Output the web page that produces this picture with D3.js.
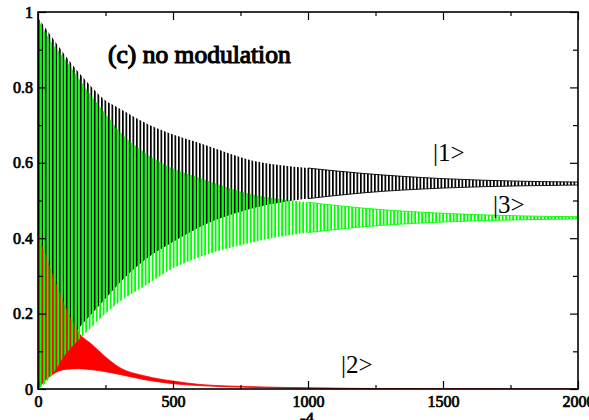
<!DOCTYPE html>
<html>
<head>
<meta charset="utf-8">
<script src="https://cdn.jsdelivr.net/npm/d3@7"></script>
<style>
	body { margin: 0; background: #fff; }
	svg text { font-family: "Liberation Serif", "Times New Roman", serif; }
</style>
</head>
<body>
<div id="chart"></div>
<script>
const times = [0, 20, 50, 100, 150, 200, 250, 300, 400, 500, 600, 800, 1000, 1200, 1500, 1800, 2000]

// |1> population (black): upper and lower envelope of the fast oscillation
const state1Max = [0.985, 0.965, 0.935, 0.885, 0.84, 0.8, 0.765, 0.745, 0.705, 0.675, 0.652, 0.605, 0.586, 0.572, 0.558, 0.551, 0.549]
const state1Min = [0.0, 0.02, 0.05, 0.11, 0.16, 0.2, 0.24, 0.28, 0.345, 0.39, 0.43, 0.48, 0.505, 0.52, 0.533, 0.539, 0.541]

// |3> population (green)
const state3Max = [0.98, 0.955, 0.92, 0.875, 0.825, 0.775, 0.73, 0.685, 0.625, 0.585, 0.56, 0.515, 0.495, 0.48, 0.466, 0.459, 0.457]
const state3Min = [0.0, 0.01, 0.035, 0.09, 0.13, 0.165, 0.2, 0.23, 0.275, 0.32, 0.35, 0.39, 0.415, 0.43, 0.443, 0.449, 0.451]

// |2> population (red)
const state2Max = [0.41, 0.37, 0.31, 0.22, 0.15, 0.118, 0.085, 0.058, 0.034, 0.021, 0.012, 0.006, 0.003, 0.0015, 0.0005, 0.0, 0.0]
const state2Min = [0.0, 0.018, 0.037, 0.052, 0.054, 0.051, 0.046, 0.039, 0.024, 0.014, 0.009, 0.004, 0.002, 0.001, 0.0003, 0.0, 0.0]

// axis ticks
const xMajor = [0, 500, 1000, 1500, 2000]
const xMinor = [250, 750, 1250, 1750]
const yMajor = [0, 0.2, 0.4, 0.6, 0.8, 1]
const yMinor = [0.1, 0.3, 0.5, 0.7, 0.9]
const yTickLabels = ["0", "0.2", "0.4", "0.6", "0.8", "1"]

const serif = '"Liberation Serif", "Times New Roman", serif'

const svgWidth = 589
const svgHeight = 420

let margin = { top: 12, right: 11, bottom: 31, left: 38 }
let width = svgWidth - margin.left - margin.right
let height = svgHeight - margin.top - margin.bottom

let svg = d3.select("#chart")
	.append("svg")
	.attr("width", svgWidth)
	.attr("height", svgHeight)

let defs = svg.append("defs")

defs.append("clipPath")
	.attr("id", "plotClip")
	.append("rect")
	.attr("width", width)
	.attr("height", height)

// vertical stripes stand in for the dense oscillation of each line
function stripes(id, color, period, barWidth, offset) {
	let p = defs.append("pattern")
		.attr("id", id)
		.attr("patternUnits", "userSpaceOnUse")
		.attr("width", period)
		.attr("height", 20)
		.attr("patternTransform", `translate(${offset}, 0)`)
	p.append("rect")
		.attr("x", 0)
		.attr("y", 0)
		.attr("width", barWidth)
		.attr("height", 20)
		.attr("fill", color)
}
stripes("blackStripes", "#000", 3.5, 1.7, 0)
stripes("greenStripes", "#00ff00", 3.5, 1.8, 1.75)

let chartGroup = svg.append("g")
	.attr("transform", `translate(${margin.left}, ${margin.top})`)

let xLinearScale = d3.scaleLinear().domain([0, 2000]).range([0, width])
let yLinearScale = d3.scaleLinear().domain([0, 1]).range([height, 0])

function band(maxValues, minValues) {
	return times.map((t, i) => ({ t: t, hi: maxValues[i], lo: minValues[i] }))
}

let area = d3.area()
	.curve(d3.curveMonotoneX)
	.x(d => xLinearScale(d.t))
	.y0(d => yLinearScale(d.lo))
	.y1(d => yLinearScale(d.hi))

let plot = chartGroup.append("g").attr("clip-path", "url(#plotClip)")

// black |1>
plot.append("path")
	.datum(band(state1Max, state1Min))
	.attr("d", area)
	.attr("fill", "url(#blackStripes)")
	.attr("stroke", "none")

// red |2>
plot.append("path")
	.datum(band(state2Max, state2Min))
	.attr("d", area)
	.attr("fill", "#ff0000")
	.attr("stroke", "#ff0000")
	.attr("stroke-width", 0.8)

// green |3>
plot.append("path")
	.datum(band(state3Max, state3Min))
	.attr("d", area)
	.attr("fill", "url(#greenStripes)")
	.attr("stroke", "none")

// thin lines keep the narrow tail of each band visible
let upperLine = d3.line().curve(d3.curveMonotoneX).x(d => xLinearScale(d.t)).y(d => yLinearScale(d.hi))
let lowerLine = d3.line().curve(d3.curveMonotoneX).x(d => xLinearScale(d.t)).y(d => yLinearScale(d.lo))
let tails = [[state1Max, state1Min, "#000"], [state3Max, state3Min, "#00ff00"]]
tails.forEach(([hi, lo, color]) => {
	let data = band(hi, lo).filter(d => d.t >= 1000)
	plot.append("path").datum(data).attr("d", upperLine)
		.attr("fill", "none").attr("stroke", color).attr("stroke-width", 0.9)
	plot.append("path").datum(data).attr("d", lowerLine)
		.attr("fill", "none").attr("stroke", color).attr("stroke-width", 0.9)
})

// bold serif drawn as regular serif with a thin outline
function boldSerif(sel, size) {
	return sel
		.style("font-family", serif)
		.style("font-weight", "normal")
		.style("font-size", size + "px")
		.attr("fill", "#000")
		.attr("stroke", "#000")
		.attr("stroke-width", size * 0.045)
}

// axes: ticks point inward on all four sides
function addAxis(axis, transform) {
	let g = chartGroup.append("g").attr("transform", transform).call(axis)
	g.attr("font-family", null)
	g.select(".domain").remove()
	g.selectAll(".tick line").attr("stroke", "#000").attr("stroke-width", 1.2)
	boldSerif(g.selectAll("text"), 16)
	return g
}

addAxis(d3.axisBottom(xLinearScale).tickValues(xMajor).tickSize(-8).tickPadding(7).tickFormat(d3.format("d")), `translate(0, ${height})`)
addAxis(d3.axisBottom(xLinearScale).tickValues(xMinor).tickSize(-4).tickFormat(""), `translate(0, ${height})`)
addAxis(d3.axisTop(xLinearScale).tickValues(xMajor).tickSize(-8).tickFormat(""), "translate(0, 0)")
addAxis(d3.axisTop(xLinearScale).tickValues(xMinor).tickSize(-4).tickFormat(""), "translate(0, 0)")
addAxis(d3.axisLeft(yLinearScale).tickValues(yMajor).tickSize(-8).tickPadding(5).tickFormat((d, i) => yTickLabels[i]), "translate(0, 0)")
addAxis(d3.axisLeft(yLinearScale).tickValues(yMinor).tickSize(-5).tickFormat(""), "translate(0, 0)")
addAxis(d3.axisRight(yLinearScale).tickValues(yMajor).tickSize(-8).tickFormat(""), `translate(${width}, 0)`)
addAxis(d3.axisRight(yLinearScale).tickValues(yMinor).tickSize(-5).tickFormat(""), `translate(${width}, 0)`)

// frame
chartGroup.append("rect")
	.attr("width", width)
	.attr("height", height)
	.attr("fill", "none")
	.attr("stroke", "#000")
	.attr("stroke-width", 1.6)

// annotations
boldSerif(svg.append("text"), 25.5)
	.attr("x", 108)
	.attr("y", 63)
	.text("(c) no modulation")

let stateLabels = [["|1>", 433, 161], ["|3>", 493, 213], ["|2>", 341, 373]]
stateLabels.forEach(([label, x, y]) => {
	svg.append("text")
		.attr("x", x)
		.attr("y", y)
		.style("font-family", serif)
		.style("font-size", "25px")
		.text(label)
})

// x-axis title, cut off at the bottom edge
boldSerif(svg.append("text"), 17)
	.attr("x", 307)
	.attr("y", 424)
	.attr("text-anchor", "middle")
	.text("-4")
</script>
</body>
</html>
